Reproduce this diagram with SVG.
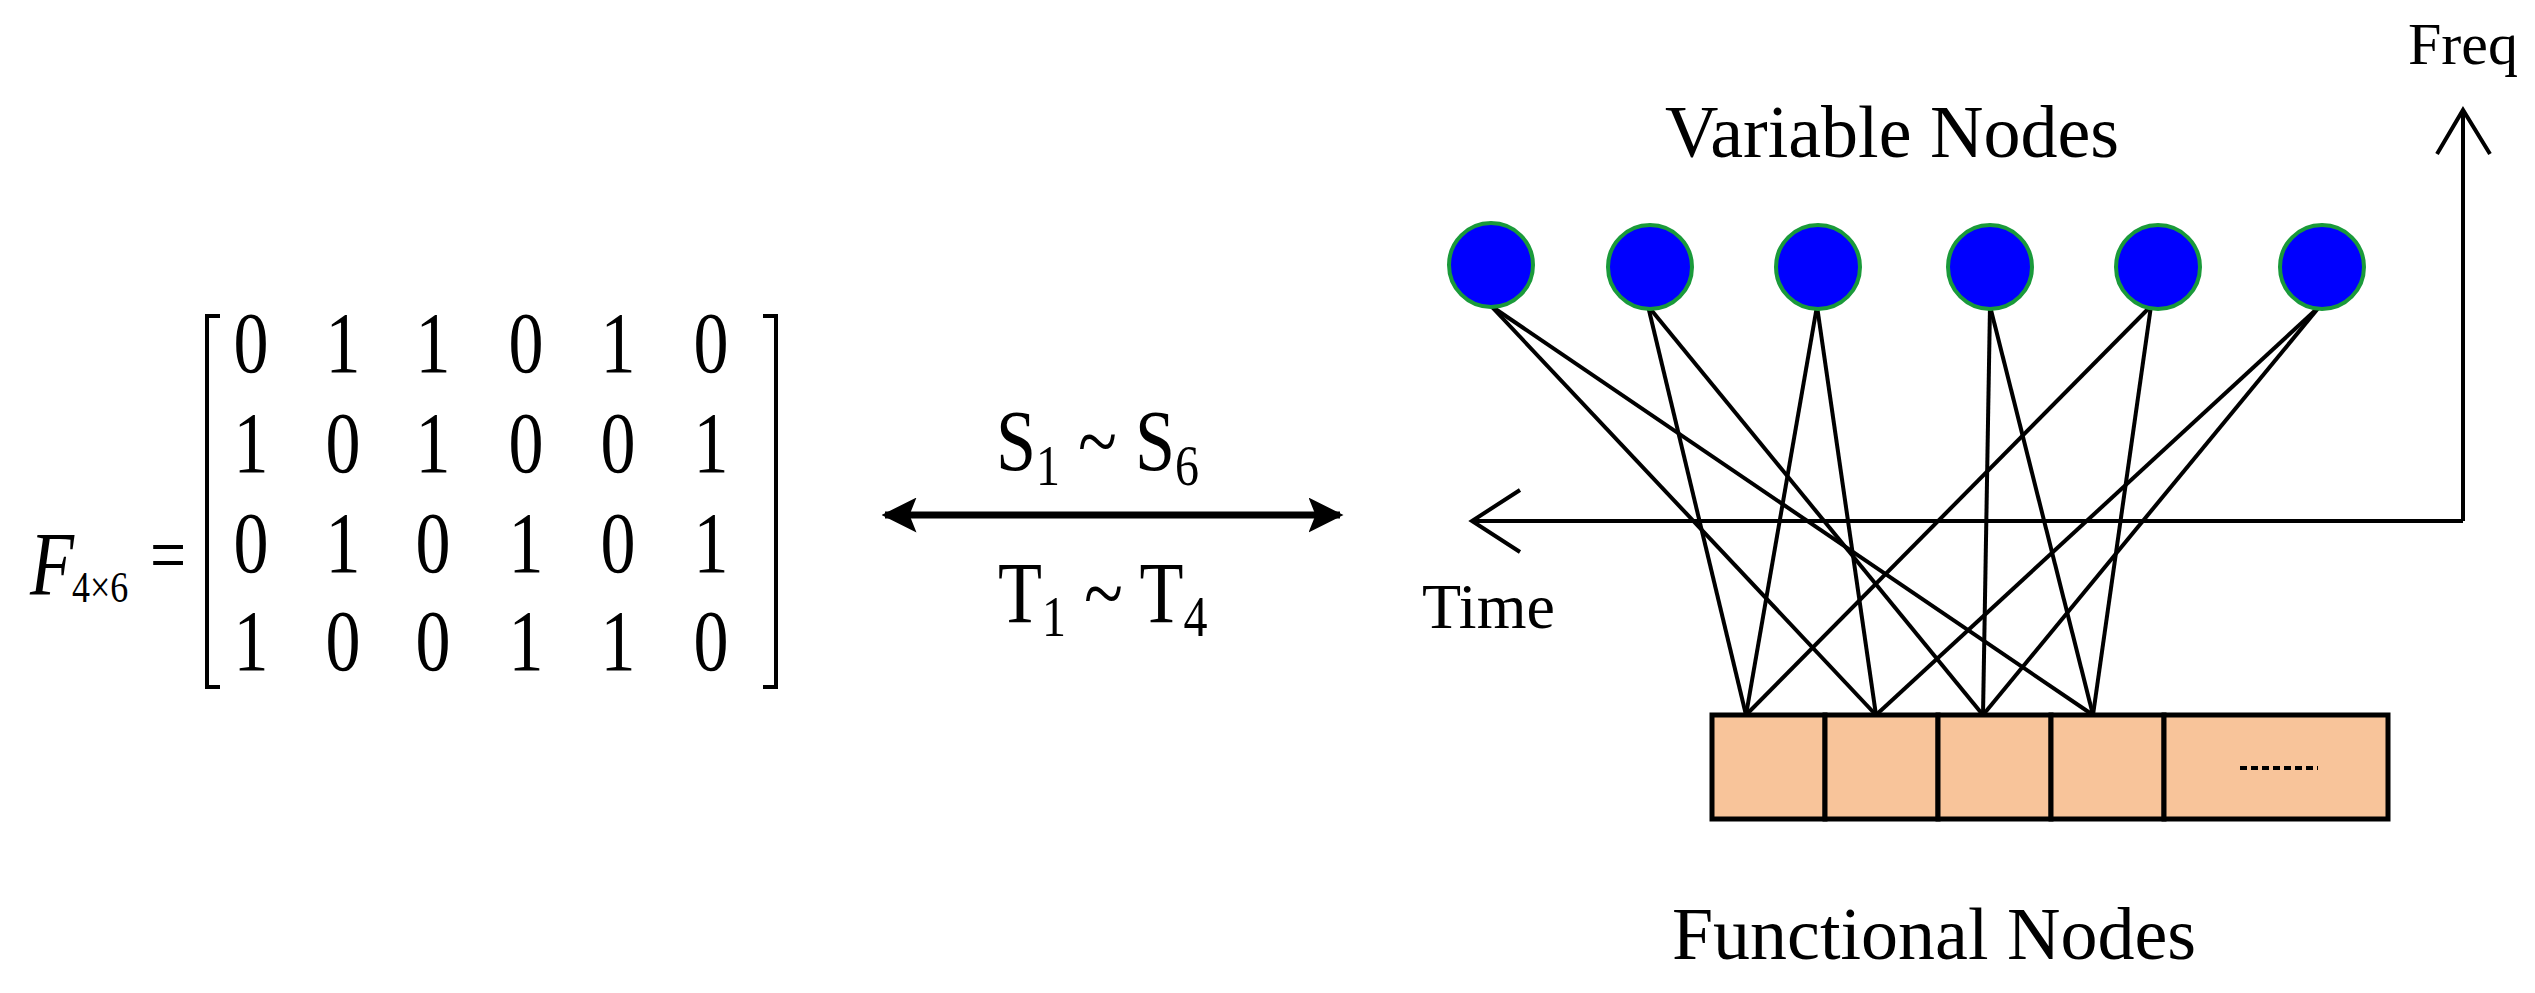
<svg xmlns="http://www.w3.org/2000/svg" width="2535" height="993" viewBox="0 0 2535 993">
<style>
text{font-family:"Liberation Serif","Times New Roman",serif;fill:#000}
.m{font-size:70px;text-anchor:middle}
.e{stroke:#000;stroke-width:4;fill:none}
.v{fill:#0000ff;stroke:#1a9a3a;stroke-width:4}
.f{fill:#f8c49a;stroke:#000;stroke-width:5}
</style>
<defs>
<marker id="ah" viewBox="0 0 10 10" refX="9" refY="5" markerWidth="5" markerHeight="5" orient="auto-start-reverse"><path d="M0,0 L10,5 L0,10 L2,5 Z" fill="#000"/></marker>
</defs>
<rect width="2535" height="993" fill="#fff"/>
<g id="matrix">
<g transform="scale(1,1.25)">
<text x="30" y="476" font-size="72" font-style="italic">F</text>
<text x="72" y="482" font-size="36">4×6</text>
<text x="150" y="466" font-size="64">=</text>
</g>
<path d="M220,316 H207 V687 H220 M763,316 H776 V687 H763" class="e" stroke-width="3"/>
<g class="m" transform="scale(1,1.25)">
<text x="251" y="298">0</text><text x="343" y="298">1</text><text x="433" y="298">1</text><text x="526" y="298">0</text><text x="618" y="298">1</text><text x="711" y="298">0</text>
<text x="251" y="378">1</text><text x="343" y="378">0</text><text x="433" y="378">1</text><text x="526" y="378">0</text><text x="618" y="378">0</text><text x="711" y="378">1</text>
<text x="251" y="458">0</text><text x="343" y="458">1</text><text x="433" y="458">0</text><text x="526" y="458">1</text><text x="618" y="458">0</text><text x="711" y="458">1</text>
<text x="251" y="536">1</text><text x="343" y="536">0</text><text x="433" y="536">0</text><text x="526" y="536">1</text><text x="618" y="536">1</text><text x="711" y="536">0</text>
</g>
</g>
<g id="mapping">
<line x1="885" y1="515" x2="1340" y2="515" stroke="#000" stroke-width="7" marker-start="url(#ah)" marker-end="url(#ah)"/>
<g transform="scale(1,1.2)">
<text x="996" y="392" font-size="72">S<tspan font-size="48" dy="12">1</tspan><tspan dy="-12"> ~ S</tspan><tspan font-size="48" dy="12">6</tspan></text>
<text x="998" y="518" font-size="72">T<tspan font-size="48" dy="12">1</tspan><tspan dy="-12"> ~ T</tspan><tspan font-size="48" dy="12">4</tspan></text>
</g>
</g>
<g id="axes" class="e">
<polyline points="2463,521 1472,521"/>
<polyline points="2463,521 2463,110"/>
<polyline points="1520,490 1472,521 1520,552"/>
<polyline points="2437,154 2463,110 2490,154"/>
</g>
<text x="2408" y="64" font-size="60">Freq</text>
<text x="1422" y="628" font-size="64">Time</text>
<text x="1892" y="157" font-size="74" text-anchor="middle">Variable Nodes</text>
<text x="1934" y="959" font-size="74" text-anchor="middle">Functional Nodes</text>
<g id="connectors" class="e" stroke-width="3.5">
<line x1="1746" y1="715" x2="1648" y2="306"/><line x1="1746" y1="715" x2="1817" y2="306"/><line x1="1746" y1="715" x2="2151" y2="306"/>
<line x1="1876" y1="715" x2="1491" y2="306"/><line x1="1876" y1="715" x2="1817" y2="306"/><line x1="1876" y1="715" x2="2320" y2="306"/>
<line x1="1983" y1="715" x2="1648" y2="306"/><line x1="1983" y1="715" x2="1990" y2="306"/><line x1="1983" y1="715" x2="2320" y2="306"/>
<line x1="2093" y1="715" x2="1491" y2="306"/><line x1="2093" y1="715" x2="1990" y2="306"/><line x1="2093" y1="715" x2="2151" y2="306"/>
</g>
<g id="variable-nodes">
<ellipse id="v1" class="v" cx="1491" cy="265" rx="42" ry="42"/>
<ellipse id="v2" class="v" cx="1650" cy="267" rx="42" ry="42"/>
<ellipse id="v3" class="v" cx="1818" cy="267" rx="42" ry="42"/>
<ellipse id="v4" class="v" cx="1990" cy="267" rx="42" ry="42"/>
<ellipse id="v5" class="v" cx="2158" cy="267" rx="42" ry="42"/>
<ellipse id="v6" class="v" cx="2322" cy="267" rx="42" ry="42"/>
</g>
<g id="functional-nodes">
<rect class="f" x="1712" y="715" width="113" height="104"/>
<rect class="f" x="1825" y="715" width="113" height="104"/>
<rect class="f" x="1938" y="715" width="113" height="104"/>
<rect class="f" x="2051" y="715" width="113" height="104"/>
<rect class="f" x="2164" y="715" width="224" height="104"/>
<line x1="2240" y1="768" x2="2318" y2="768" stroke="#000" stroke-width="4" stroke-dasharray="7,4"/>
</g>
</svg>
